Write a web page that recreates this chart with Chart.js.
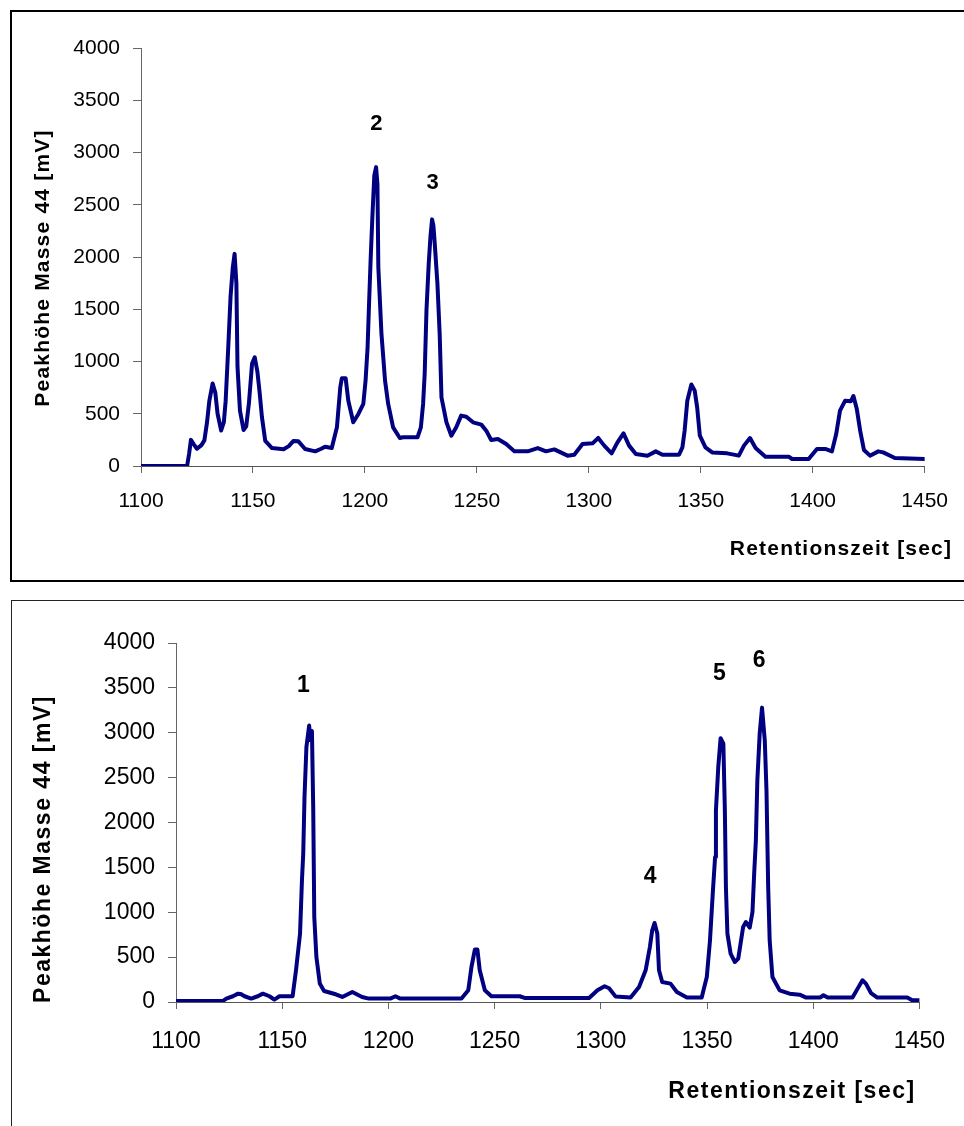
<!DOCTYPE html>
<html>
<head>
<meta charset="utf-8">
<script src="https://cdn.jsdelivr.net/npm/chart.js@4.4.1/dist/chart.umd.min.js"></script>
<style>
  body { margin: 0; background: #fff; overflow: hidden; width: 964px; height: 1126px; position: relative; }
  .frame { position: absolute; box-sizing: border-box; }
  #frameTop { left: 10px; top: 10px; width: 1000px; height: 572px; border: 2px solid #000; }
  #frameBottom { left: 11px; top: 600px; width: 1000px; height: 600px; border: 1.5px solid #222; }
  canvas { position: absolute; left: 0; }
</style>
</head>
<body>
<div class="frame" id="frameTop"></div>
<div class="frame" id="frameBottom"></div>
<canvas id="chartTop" width="964" height="590" style="top:0px"></canvas>
<canvas id="chartBottom" width="964" height="536" style="top:590px"></canvas>
<script>
// x ticks / y ticks
const xTicks = [1100, 1150, 1200, 1250, 1300, 1350, 1400, 1450]
const yTicks = [0, 500, 1000, 1500, 2000, 2500, 3000, 3500, 4000]

// upper chromatogram: retention time [sec] and peak height [mV]
const timeTop = [1100, 1120.6, 1121.5, 1122.3, 1123.5, 1125, 1127, 1128.3, 1129.5, 1130.5, 1132, 1133.2, 1134.2, 1135.8, 1137, 1137.8, 1139, 1140, 1141, 1141.8, 1142.6, 1143.1, 1144.2, 1145.8, 1147, 1148.2, 1149.6, 1150.8, 1152, 1153, 1154, 1155.5, 1158.5, 1163.7, 1166, 1168.1, 1170.3, 1173.3, 1177.8, 1180.5, 1182.2, 1185.2, 1187.5, 1189, 1189.7, 1191.4, 1192.6, 1194.8, 1197.1, 1199.3, 1200.3, 1201.2, 1201.8, 1202.6, 1203.4, 1204.2, 1205, 1205.6, 1206, 1207.4, 1209, 1210.4, 1212.6, 1215.6, 1217, 1223.5, 1225, 1226, 1226.7, 1227.5, 1228.5, 1229.3, 1230, 1230.6, 1231.2, 1232.4, 1233.4, 1234.2, 1236.4, 1238.6, 1240.8, 1243, 1245.3, 1248.3, 1252, 1254.2, 1256.4, 1259.4, 1263.1, 1266.8, 1272.7, 1277.2, 1280.9, 1284.6, 1290.5, 1293.5, 1297.2, 1301.7, 1304.2, 1306.9, 1310.2, 1312.8, 1315.5, 1318, 1321, 1326.2, 1329.9, 1332.9, 1340.3, 1341.8, 1342.8, 1344, 1345.8, 1347.3, 1348.4, 1349.6, 1352.1, 1355.1, 1361.8, 1367, 1369.3, 1372, 1374.5, 1378.9, 1389.3, 1390.8, 1398.2, 1401.9, 1405.6, 1408.6, 1410.5, 1412.2, 1414.5, 1417, 1418.2, 1419.7, 1421.2, 1422.9, 1425.6, 1429.3, 1431.5, 1436.7, 1450]
const signalTop = [0, 0, 120, 250, 210, 165, 200, 245, 420, 620, 790, 700, 500, 340, 420, 620, 1150, 1620, 1900, 2030, 1750, 950, 530, 345, 380, 600, 980, 1040, 900, 700, 470, 240, 172, 160, 190, 240, 236, 163, 140, 165, 185, 172, 370, 753, 840, 840, 625, 418, 498, 594, 817, 1136, 1519, 1998, 2414, 2780, 2860, 2700, 1902, 1265, 817, 594, 370, 268, 275, 275, 370, 594, 881, 1488, 1935, 2200, 2360, 2300, 2127, 1743, 1265, 657, 420, 290, 370, 482, 472, 418, 396, 338, 249, 259, 211, 140, 140, 172, 140, 159, 99, 108, 211, 217, 268, 195, 121, 226, 312, 195, 115, 99, 140, 108, 108, 178, 338, 625, 780, 721, 561, 290, 178, 130, 121, 99, 195, 268, 172, 89, 89, 67, 67, 163, 163, 140, 306, 530, 625, 619, 670, 546, 338, 153, 99, 140, 130, 77, 67]
const peaksTop = ['2', '3']
const peaksTopX = [1205.1, 1230.2]
const peaksTopY = [3274, 2710]

// lower chromatogram
const timeBottom = [1100, 1122, 1123.7, 1126.8, 1129.2, 1130.5, 1132.3, 1135.4, 1138.5, 1140.9, 1144, 1146.3, 1148.7, 1154.9, 1156.5, 1158.4, 1159.3, 1159.9, 1160.5, 1161.4, 1162.7, 1163.2, 1164, 1164.6, 1165.1, 1166.1, 1167.7, 1169.7, 1175.2, 1178.3, 1183, 1187.6, 1190.8, 1200.9, 1203.3, 1205.6, 1234.4, 1237.6, 1239.1, 1240.7, 1241.9, 1243, 1245.4, 1248.5, 1261.8, 1264.1, 1294.5, 1298.4, 1301.8, 1303.9, 1307, 1314, 1318, 1321.1, 1323.1, 1324.2, 1325.3, 1326.6, 1327.4, 1328.9, 1332.8, 1335.8, 1340.5, 1347.5, 1349.9, 1351.4, 1352.7, 1353.8, 1354.2, 1355.3, 1356.4, 1357.7, 1358.4, 1358.9, 1359.6, 1361.1, 1363.1, 1364.7, 1365.8, 1367, 1368.3, 1370.1, 1371.4, 1372.2, 1373, 1373.7, 1374.8, 1375.9, 1377.2, 1378, 1378.8, 1379.5, 1380.8, 1384.2, 1388.9, 1393.6, 1396.7, 1403.2, 1404.8, 1406.8, 1418.5, 1420.9, 1423.2, 1424.8, 1427.2, 1430.2, 1444.3, 1446.6, 1450]
const signalBottom = [10, 10, 38, 64, 93, 90, 64, 38, 64, 93, 64, 27, 64, 64, 353, 762, 1356, 1653, 2284, 2841, 3080, 2920, 3020, 2172, 947, 501, 205, 123, 86, 56, 111, 56, 38, 38, 64, 38, 38, 130, 390, 584, 584, 353, 130, 64, 64, 45, 45, 130, 175, 153, 60, 49, 167, 353, 613, 799, 880, 762, 353, 223, 205, 111, 49, 49, 279, 687, 1208, 1615, 2136, 2618, 2940, 2878, 2136, 1281, 762, 539, 446, 483, 650, 836, 891, 829, 1003, 1430, 1801, 2470, 2990, 3280, 2915, 2358, 1281, 687, 279, 130, 93, 82, 49, 49, 75, 49, 49, 149, 242, 205, 100, 49, 49, 19, 19]
const peaksBottom = ['1', '4', '5', '6']
const peaksBottomX = [1160, 1323.2, 1355.8, 1374.5]
const peaksBottomY = [3528, 1393, 3658, 3806]

const FONT = "'Liberation Sans', Arial, sans-serif"
const xTitle = 'Retentionszeit [sec]'
const yTitle = 'Peakhöhe Masse 44 [mV]'

// peak numbers + axis titles (titles are placed like in the scanned figure, not centred)
const textPlugin = {
    id: 'texts',
    afterDraw(chart, args, opts) {
        const ctx = chart.ctx
        const xs = chart.scales.x
        const ys = chart.scales.y
        ctx.save()
        ctx.fillStyle = '#000'
        ctx.textAlign = 'center'
        ctx.textBaseline = 'middle'
        ctx.font = 'bold ' + opts.peakSize + 'px ' + FONT
        opts.labels.forEach((lab, i) => {
            ctx.fillText(lab, xs.getPixelForValue(opts.labelX[i]), ys.getPixelForValue(opts.labelY[i]))
        })
        ctx.font = 'bold ' + opts.titleSize + 'px ' + FONT
        ctx.letterSpacing = opts.spacing + 'px'
        ctx.fillText(xTitle, opts.xTitleAt[0], opts.xTitleAt[1])
        ctx.translate(opts.yTitleAt[0], opts.yTitleAt[1])
        ctx.rotate(-Math.PI / 2)
        ctx.fillText(yTitle, 0, 0)
        ctx.restore()
    }
}

function makeChart(id, times, signal, g) {
    const points = times.map((t, i) => ({ x: t, y: signal[i] }))
    return new Chart(id, {
        type: 'scatter',
        data: {
            datasets: [{
                data: points,
                showLine: true,
                borderColor: '#000080',
                borderWidth: 4,
                borderJoinStyle: 'round',
                borderCapStyle: 'round',
                pointRadius: 0,
                tension: 0
            }]
        },
        options: {
            responsive: false,
            animation: false,
            layout: { padding: { left: 0, top: g.top, right: g.right, bottom: 0 } },
            plugins: {
                legend: { display: false },
                tooltip: { enabled: false },
                texts: g.texts
            },
            scales: {
                x: {
                    type: 'linear',
                    min: xTicks[0],
                    max: xTicks[xTicks.length - 1],
                    afterBuildTicks: s => { s.ticks = xTicks.map(v => ({ value: v })) },
                    afterFit: s => { s.height = g.xHeight },
                    ticks: { color: '#000', font: { family: FONT, size: g.tickSize }, padding: g.xPad, maxRotation: 0, autoSkip: false, callback: v => String(v) },
                    grid: { drawOnChartArea: false, drawTicks: true, tickLength: 7, color: '#666' },
                    border: { color: '#555', width: 1 }
                },
                y: {
                    min: yTicks[0],
                    max: yTicks[yTicks.length - 1],
                    afterBuildTicks: s => { s.ticks = yTicks.map(v => ({ value: v })) },
                    afterFit: s => { s.width = g.yWidth },
                    ticks: { color: '#000', font: { family: FONT, size: g.tickSize }, padding: g.yPad, callback: v => String(v) },
                    grid: { drawOnChartArea: false, drawTicks: true, tickLength: 8, color: '#666' },
                    border: { color: '#666', width: 1 }
                }
            }
        },
        plugins: [textPlugin]
    })
}

makeChart('chartTop', timeTop, signalTop, {
    top: 48, right: 37, xHeight: 124, yWidth: 141, tickSize: 21, xPad: 16, yPad: 13,
    texts: { labels: peaksTop, labelX: peaksTopX, labelY: peaksTopY, peakSize: 22, titleSize: 21, spacing: 1.2, xTitleAt: [841, 549], yTitleAt: [43, 268] }
})

makeChart('chartBottom', timeBottom, signalBottom, {
    top: 53, right: 40, xHeight: 124, yWidth: 176, tickSize: 23, xPad: 19, yPad: 13,
    texts: { labels: peaksBottom, labelX: peaksBottomX, labelY: peaksBottomY, peakSize: 23, titleSize: 23, spacing: 1.5, xTitleAt: [792, 502], yTitleAt: [44, 259] }
})
</script>
</body>
</html>
